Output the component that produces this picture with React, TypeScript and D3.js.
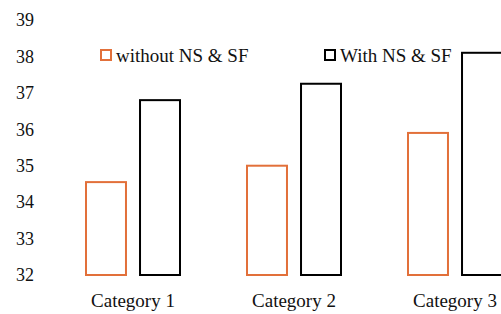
import React, { useEffect, useRef } from 'react'
import * as d3 from 'd3'

const categories = ['Category 1', 'Category 2', 'Category 3']
const seriesNames = ['without NS & SF', 'With NS & SF']
const withoutValues = [34.55, 35.0, 35.9]
const withValues = [36.8, 37.25, 38.1]
const yTicks = [32, 33, 34, 35, 36, 37, 38, 39]
const colors = ['#E2703A', '#000000']

export default function App() {
  const ref = useRef<SVGSVGElement>(null)

  useEffect(() => {
    const svg = d3.select(ref.current)
    svg.selectAll('*').remove()

    const font = "'Liberation Serif', Tinos, 'DejaVu Serif', 'Noto Serif', serif"

    // plot extends past the right edge, like the reference
    const x = d3.scaleBand().domain(categories).range([52.5, 535.5])
    const inner = d3.scaleBand().domain(seriesNames).range([33.5, 127.5]).paddingInner(0.26)
    const y = d3.scaleLinear().domain([32, 39]).range([275, 20])

    const g = svg.append('g').attr('font-family', font).attr('fill', '#111')

    g.selectAll('text.ytick')
      .data(yTicks).enter()
        .append('text')
        .attr('class', 'ytick')
        .attr('x', 34)
        .attr('y', d => y(d))
        .attr('dy', '0.35em')
        .attr('text-anchor', 'end')
        .attr('font-size', 18)
        .text(d => d)

    const series = [withoutValues, withValues]
    series.forEach((vals, si) => {
      g.selectAll('rect.s' + si)
        .data(vals).enter()
          .append('rect')
          .attr('class', 's' + si)
          .attr('x', (d, i) => x(categories[i])! + inner(seriesNames[si])!)
          .attr('y', d => y(d))
          .attr('width', inner.bandwidth())
          .attr('height', d => y(32) - y(d))
          .attr('fill', 'none')
          .attr('stroke', colors[si])
          .attr('stroke-width', 2)
    })

    g.selectAll('text.cat')
      .data(categories).enter()
        .append('text')
        .attr('class', 'cat')
        .attr('x', d => x(d)! + x.bandwidth() / 2)
        .attr('y', 307)
        .attr('text-anchor', 'middle')
        .attr('font-size', 19)
        .text(d => d)

    // legend
    const legendX = [100, 324]
    const legend = g.selectAll('g.legend')
      .data(seriesNames).enter()
        .append('g')
        .attr('class', 'legend')
        .attr('transform', (d, i) => 'translate(' + legendX[i] + ',49)')
    legend.append('rect')
      .attr('x', 1)
      .attr('y', 1)
      .attr('width', 10)
      .attr('height', 10)
      .attr('fill', 'white')
      .attr('stroke', (d, i) => colors[i])
      .attr('stroke-width', 2)
    legend.append('text')
      .attr('x', 16)
      .attr('y', 13)
      .attr('font-size', 19)
      .text(d => d)
  }, [])

  return (
    <svg ref={ref} width={501} height={314}
      style={{ position: 'absolute', left: 0, top: 0, background: 'white' }} />
  )
}
